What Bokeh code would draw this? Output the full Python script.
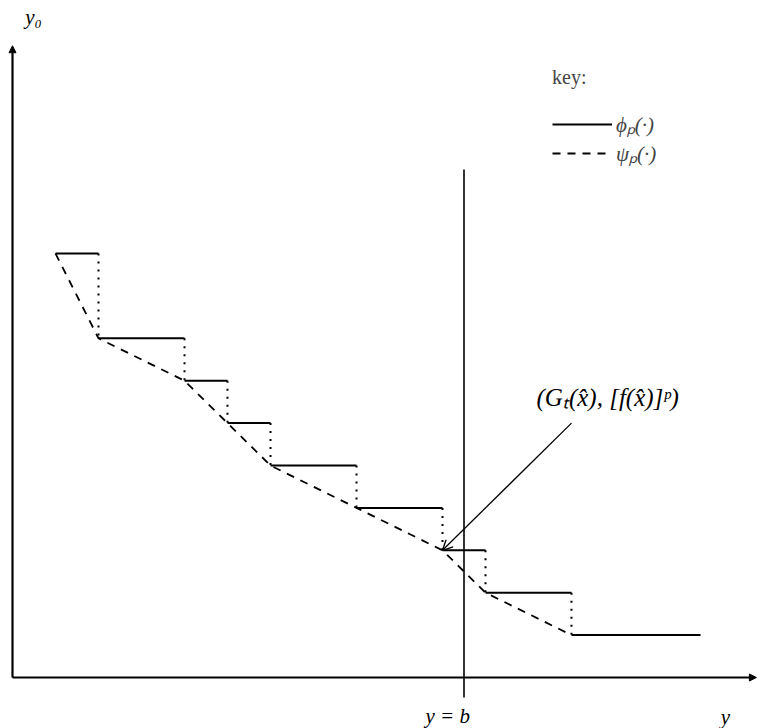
from bokeh.plotting import figure
from bokeh.models import Arrow, NormalHead, OpenHead, Label, Range1d, Legend, LegendItem
from bokeh.embed import file_html
from bokeh.resources import INLINE

# ---- data (diagram units) ----
step_x = [1, 2, 4, 5, 6, 8, 10, 11, 13, 16]      # breakpoints along the y axis
step_level = [10, 8, 7, 6, 5, 4, 3, 2, 1]        # level of phi_p on each step
b_value = 10.5                                   # y = b
b_line_span = [-0.47, 11.98]
point_G = [10, 3]                                # (G_t(x_hat), [f(x_hat)]^p)
pointer_from = [13, 6]
axis_x_end = 17.3
axis_y_end = 14.9

SERIF = "Liberation Serif"
UX, UY = 43.0, 42.4   # pixels per diagram unit

p = figure(width=758, height=728, output_backend="svg", toolbar_location=None,
           x_axis_type=None, y_axis_type=None, min_border=0,
           x_range=Range1d(-12 / UX, 746 / UX), y_range=Range1d(-51 / UY, 677 / UY))
p.grid.visible = False
p.outline_line_color = None
p.background_fill_color = "white"
p.border_fill_color = "white"

# phi_p: solid steps
phi = p.segment(x0=step_x[:-1], x1=step_x[1:], y0=step_level, y1=step_level,
                line_color="black", line_width=2)
# dotted jumps
p.segment(x0=step_x[1:-1], x1=step_x[1:-1], y0=step_level[:-1], y1=step_level[1:],
          line_color="black", line_width=2, line_dash="2 6")
# psi_p: dashed
psi = p.line(step_x[:-1], step_level, line_color="black", line_width=1.8, line_dash="8 7")

# vertical line y = b
p.segment(x0=[b_value], x1=[b_value], y0=[b_line_span[0]], y1=[b_line_span[1]],
          line_color="black", line_width=1.6)

# axes with arrows
p.add_layout(Arrow(end=NormalHead(size=7, fill_color="black", line_color="black"),
                   x_start=0, y_start=0, x_end=0, y_end=axis_y_end,
                   line_color="black", line_width=2.2))
p.add_layout(Arrow(end=NormalHead(size=7, fill_color="black", line_color="black"),
                   x_start=0, y_start=0, x_end=axis_x_end, y_end=0,
                   line_color="black", line_width=2.2))

# pointer arrow
p.add_layout(Arrow(end=OpenHead(size=10, line_width=1.3, line_color="black"),
                   x_start=pointer_from[0], y_start=pointer_from[1],
                   x_end=point_G[0], y_end=point_G[1],
                   line_color="black", line_width=1.3))

# legend ("key:")
legend = Legend(items=[LegendItem(label="ϕₚ(·)", renderers=[phi]),
                       LegendItem(label="ψₚ(·)", renderers=[psi])],
                title="key:", location=(552, 561),
                glyph_width=60, glyph_height=20, label_height=20,
                spacing=1, padding=0, margin=0, title_standoff=21,
                label_standoff=4,
                label_text_font=SERIF, label_text_font_style="italic",
                label_text_font_size="21px",
                title_text_font=SERIF, title_text_font_style="normal",
                title_text_font_size="20px",
                background_fill_alpha=0, border_line_color=None)
p.add_layout(legend)

def lab(x, y, t, italic=True, size="20px", align="center"):
    p.add_layout(Label(x=x, y=y, text=t, text_font=SERIF,
                       text_font_style="italic" if italic else "normal",
                       text_font_size=size, text_align=align, text_baseline="middle",
                       text_color="black"))

lab(0.49, 15.57, "y₀", size="21px")
lab(13.84, 6.60, "(Gₜ(x̂), [f(x̂)]ᵖ)", size="25px")
lab(10.12, -0.90, "y = b", size="21px")
lab(16.58, -0.94, "y", size="21px")

open("out.html", "w").write(file_html(p, INLINE))
